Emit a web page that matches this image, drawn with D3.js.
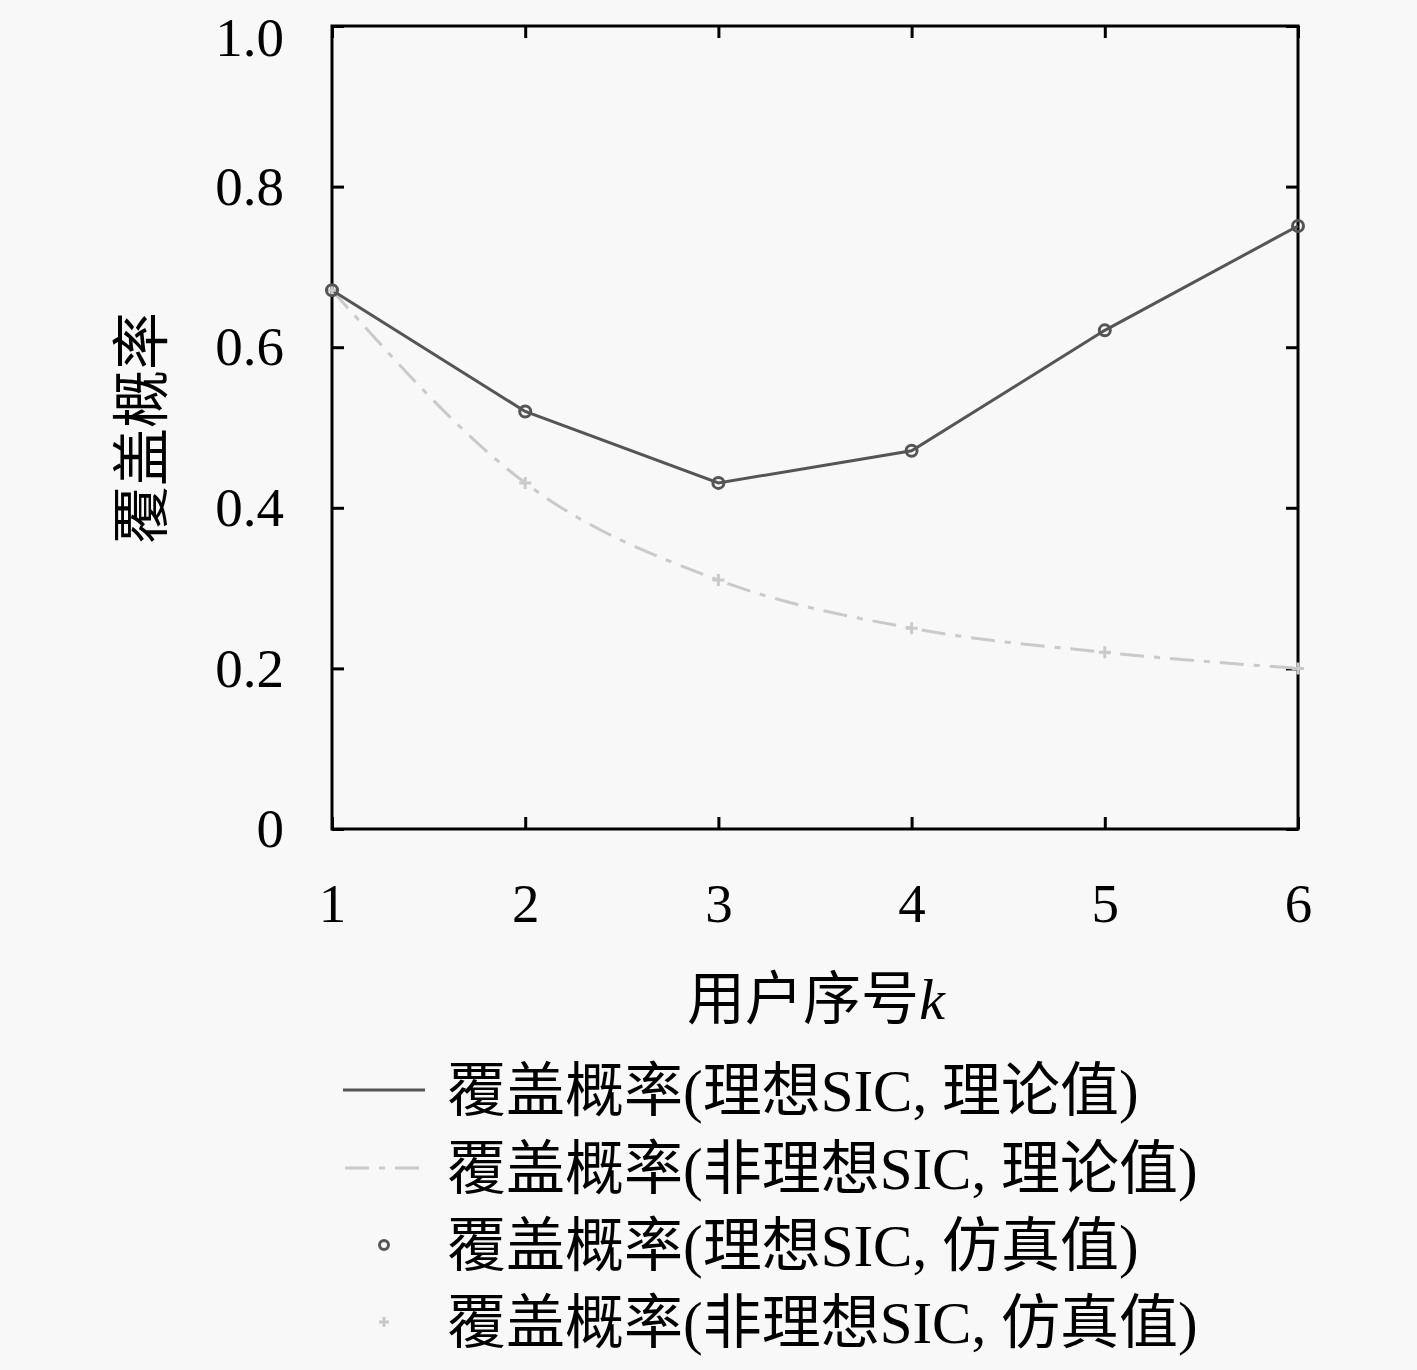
<!DOCTYPE html>
<html>
<head>
<meta charset="utf-8">
<title>覆盖概率</title>
<style>
  body { margin: 0; background: #f8f8f8; }
  svg { display: block; }
  .tick text { font-family: "Liberation Serif", "DejaVu Serif", serif; }
</style>
</head>
<body>
<script src="https://cdn.jsdelivr.net/npm/d3@7/dist/d3.min.js"></script>
<script>
// user index k
var users = [1, 2, 3, 4, 5, 6];
// coverage probability, ideal SIC (theory and simulation coincide)
var idealTheory = [0.671, 0.52, 0.431, 0.471, 0.621, 0.751];
var idealSim = [0.671, 0.52, 0.431, 0.471, 0.621, 0.751];
// coverage probability, non-ideal SIC
var nonIdealTheory = [0.671, 0.431, 0.31, 0.25, 0.22, 0.2];
var nonIdealSim = [0.671, 0.431, 0.31, 0.25, 0.22, 0.2];
var yTicks = [0, 0.2, 0.4, 0.6, 0.8, 1.0];
var legendLabels = [
  "覆盖概率(理想SIC, 理论值)",
  "覆盖概率(非理想SIC, 理论值)",
  "覆盖概率(理想SIC, 仿真值)",
  "覆盖概率(非理想SIC, 仿真值)"
];

var W = 1417, H = 1370;
var margin = {top: 26, right: 119, bottom: 541, left: 332};
var width = W - margin.left - margin.right,
    height = H - margin.top - margin.bottom;

var darkColor = "#555", lightColor = "#cacaca";
var dashes = "24,10,6,10";
var textFont = "'Liberation Serif', 'Noto Sans CJK SC', serif";

var svg = d3.select("body").append("svg")
    .attr("width", W).attr("height", H);
svg.append("rect").attr("width", W).attr("height", H).attr("fill", "#f8f8f8");

var g = svg.append("g")
    .attr("transform", "translate(" + margin.left + "," + margin.top + ")");

var x = d3.scaleLinear().domain([1, 6]).range([0, width]);
var y = d3.scaleLinear().domain([0, 1]).range([height, 0]);

// axes with inward ticks on all four sides
function styleAxis(sel) {
  sel.select(".domain").remove();
  sel.selectAll(".tick line").attr("stroke", "#000").attr("stroke-width", 3);
  sel.selectAll(".tick text").attr("fill", "#000").attr("font-size", 55);
}
g.append("g").attr("transform", "translate(0," + height + ")")
    .call(d3.axisBottom(x).tickValues(users).tickFormat(d3.format("d"))
      .tickSizeInner(-12).tickSizeOuter(0).tickPadding(54))
    .call(styleAxis);
g.append("g")
    .call(d3.axisTop(x).tickValues(users).tickSizeInner(-12).tickSizeOuter(0).tickFormat(""))
    .call(styleAxis);
var yAx = g.append("g")
    .call(d3.axisLeft(y).tickValues(yTicks)
      .tickFormat(function(d) { return d === 0 ? "0" : d3.format(".1f")(d); })
      .tickSizeInner(-12).tickSizeOuter(0).tickPadding(48))
    .call(styleAxis);
// top label sits a little lower so it stays inside the picture
yAx.selectAll(".tick text").filter(function(d) { return d === 1; }).attr("y", 12);
g.append("g").attr("transform", "translate(" + width + ",0)")
    .call(d3.axisRight(y).tickValues(yTicks).tickSizeInner(-12).tickSizeOuter(0).tickFormat(""))
    .call(styleAxis);

g.append("rect").attr("width", width).attr("height", height)
    .attr("fill", "none").attr("stroke", "#000").attr("stroke-width", 3);

var line = d3.line()
    .x(function(d, i) { return x(users[i]); })
    .y(function(d) { return y(d); });

g.append("path").datum(nonIdealTheory)
    .attr("d", line.curve(d3.curveMonotoneX))
    .attr("fill", "none").attr("stroke", lightColor).attr("stroke-width", 3)
    .attr("stroke-dasharray", dashes);

g.append("path").datum(idealTheory)
    .attr("d", line.curve(d3.curveLinear))
    .attr("fill", "none").attr("stroke", darkColor).attr("stroke-width", 3);

g.selectAll(".plus").data(nonIdealSim).enter().append("path")
    .attr("class", "plus")
    .attr("transform", function(d, i) { return "translate(" + x(users[i]) + "," + y(d) + ")"; })
    .attr("d", "M-6,0H6M0,-6V6")
    .attr("stroke", lightColor).attr("stroke-width", 3);

g.selectAll(".circ").data(idealSim).enter().append("circle")
    .attr("class", "circ")
    .attr("cx", function(d, i) { return x(users[i]); })
    .attr("cy", function(d) { return y(d); })
    .attr("r", 5.5).attr("fill", "none")
    .attr("stroke", darkColor).attr("stroke-width", 3);

// axis titles
svg.append("text")
    .attr("transform", "translate(162,428) rotate(-90)")
    .attr("text-anchor", "middle")
    .attr("font-family", textFont).attr("font-size", 58)
    .text("覆盖概率");

var xt = svg.append("text")
    .attr("x", 816).attr("y", 1019)
    .attr("text-anchor", "middle")
    .attr("font-family", textFont).attr("font-size", 58);
xt.append("tspan").text("用户序号");
xt.append("tspan").attr("font-style", "italic").text("k");

// legend
var legY = [1090, 1168, 1245, 1322];
var leg = svg.selectAll(".leg").data(legendLabels).enter().append("g")
    .attr("class", "leg")
    .attr("transform", function(d, i) { return "translate(0," + legY[i] + ")"; });

leg.append("text")
    .attr("x", 447).attr("y", 21)
    .attr("font-family", textFont).attr("font-size", 59)
    .text(function(d) { return d; });

leg.filter(function(d, i) { return i === 0; }).append("line")
    .attr("x1", 343).attr("x2", 425)
    .attr("stroke", darkColor).attr("stroke-width", 3);
leg.filter(function(d, i) { return i === 1; }).append("line")
    .attr("x1", 345).attr("x2", 425)
    .attr("stroke", lightColor).attr("stroke-width", 3)
    .attr("stroke-dasharray", dashes);
leg.filter(function(d, i) { return i === 2; }).append("circle")
    .attr("cx", 384).attr("r", 4.5).attr("fill", "none")
    .attr("stroke", darkColor).attr("stroke-width", 3);
leg.filter(function(d, i) { return i === 3; }).append("path")
    .attr("transform", "translate(384,0)")
    .attr("d", "M-5,0H5M0,-5V5")
    .attr("stroke", lightColor).attr("stroke-width", 3);
</script>
</body>
</html>
